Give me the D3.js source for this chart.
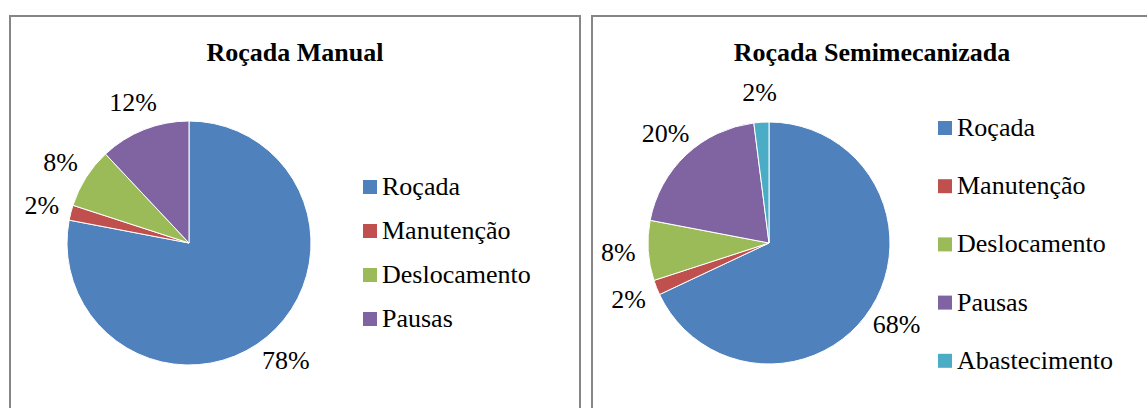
<!DOCTYPE html>
<html lang="pt">
<head>
<meta charset="UTF-8">
<title>Roçada</title>
<script src="https://cdnjs.cloudflare.com/ajax/libs/d3/7.8.5/d3.min.js"></script>
<style>
    body { margin: 0; background: #ffffff; }
</style>
</head>
<body>
<script>

    // dados
    var categoriasManual = ["Roçada", "Manutenção", "Deslocamento", "Pausas"];
    var valoresManual = [78, 2, 8, 12];

    var categoriasSemi = ["Roçada", "Manutenção", "Deslocamento", "Pausas", "Abastecimento"];
    var valoresSemi = [68, 2, 8, 20, 2];

    var cores = ["#4F81BD", "#C0504D", "#9BBB59", "#8064A2", "#4BACC6"];

    var width = 1147;
    var height = 408;
    var fonte = "'Liberation Serif', 'Times New Roman', Tinos, 'DejaVu Serif', serif";

    var svg = d3.select("body").append("svg")
        .attr("width", width)
        .attr("height", height)
        .style("font-family", fonte);

    function desenhaPainel(opts) {
        var g = svg.append("g");

        // moldura
        g.append("rect")
            .attr("x", opts.x)
            .attr("y", opts.y)
            .attr("width", opts.w)
            .attr("height", opts.h)
            .attr("fill", "#fff")
            .attr("stroke", "#868686")
            .attr("stroke-width", 2);

        g.append("text")
            .attr("x", opts.x + opts.w / 2)
            .attr("y", 61)
            .attr("text-anchor", "middle")
            .attr("font-family", fonte)
            .attr("font-size", "26px")
            .attr("font-weight", "bold")
            .text(opts.titulo);

        var pie = d3.pie().sort(null).value(function (d) { return d; });
        var arcs = pie(opts.valores);

        var arc = d3.arc().innerRadius(0).outerRadius(opts.r);

        var pieG = g.append("g")
            .attr("transform", "translate(" + opts.cx + "," + opts.cy + ")");

        pieG.selectAll("path")
            .data(arcs)
            .enter()
            .append("path")
            .attr("d", arc)
            .attr("fill", function (d, i) { return cores[i]; })
            .attr("stroke", "#fff")
            .attr("stroke-width", 1);

        // rotulos de porcentagem fora da fatia
        var labelArc = d3.arc().innerRadius(opts.r + 30).outerRadius(opts.r + 30);

        pieG.selectAll(".rotulo")
            .data(arcs)
            .enter()
            .append("text")
            .attr("class", "rotulo")
            .attr("transform", function (d) {
                var c = labelArc.centroid(d);
                return "translate(" + c[0] + "," + (c[1] + 9) + ")";
            })
            .attr("text-anchor", "middle")
            .attr("font-family", fonte)
            .attr("font-size", "26px")
            .text(function (d) { return d.data + "%"; });

        // legenda
        var leg = g.selectAll(".leg")
            .data(opts.categorias)
            .enter()
            .append("g")
            .attr("class", "leg")
            .attr("transform", function (d, i) {
                return "translate(" + opts.legX + "," + (opts.legY + i * opts.legStep) + ")";
            });

        leg.append("rect")
            .attr("x", 0)
            .attr("y", -15)
            .attr("width", 14)
            .attr("height", 14)
            .attr("fill", function (d, i) { return cores[i]; });

        leg.append("text")
            .attr("x", 19)
            .attr("y", 0)
            .attr("font-family", fonte)
            .attr("font-size", "26px")
            .text(function (d) { return d; });
    }

    desenhaPainel({
        titulo: "Roçada Manual",
        categorias: categoriasManual,
        valores: valoresManual,
        x: 10, y: 16, w: 570, h: 420,
        cx: 189, cy: 243, r: 122,
        legX: 363, legY: 195, legStep: 44
    });

    desenhaPainel({
        titulo: "Roçada Semimecanizada",
        categorias: categoriasSemi,
        valores: valoresSemi,
        x: 592, y: 16, w: 560, h: 420,
        cx: 769, cy: 243, r: 121,
        legX: 938, legY: 136, legStep: 58.2
    });

</script>
</body>
</html>
